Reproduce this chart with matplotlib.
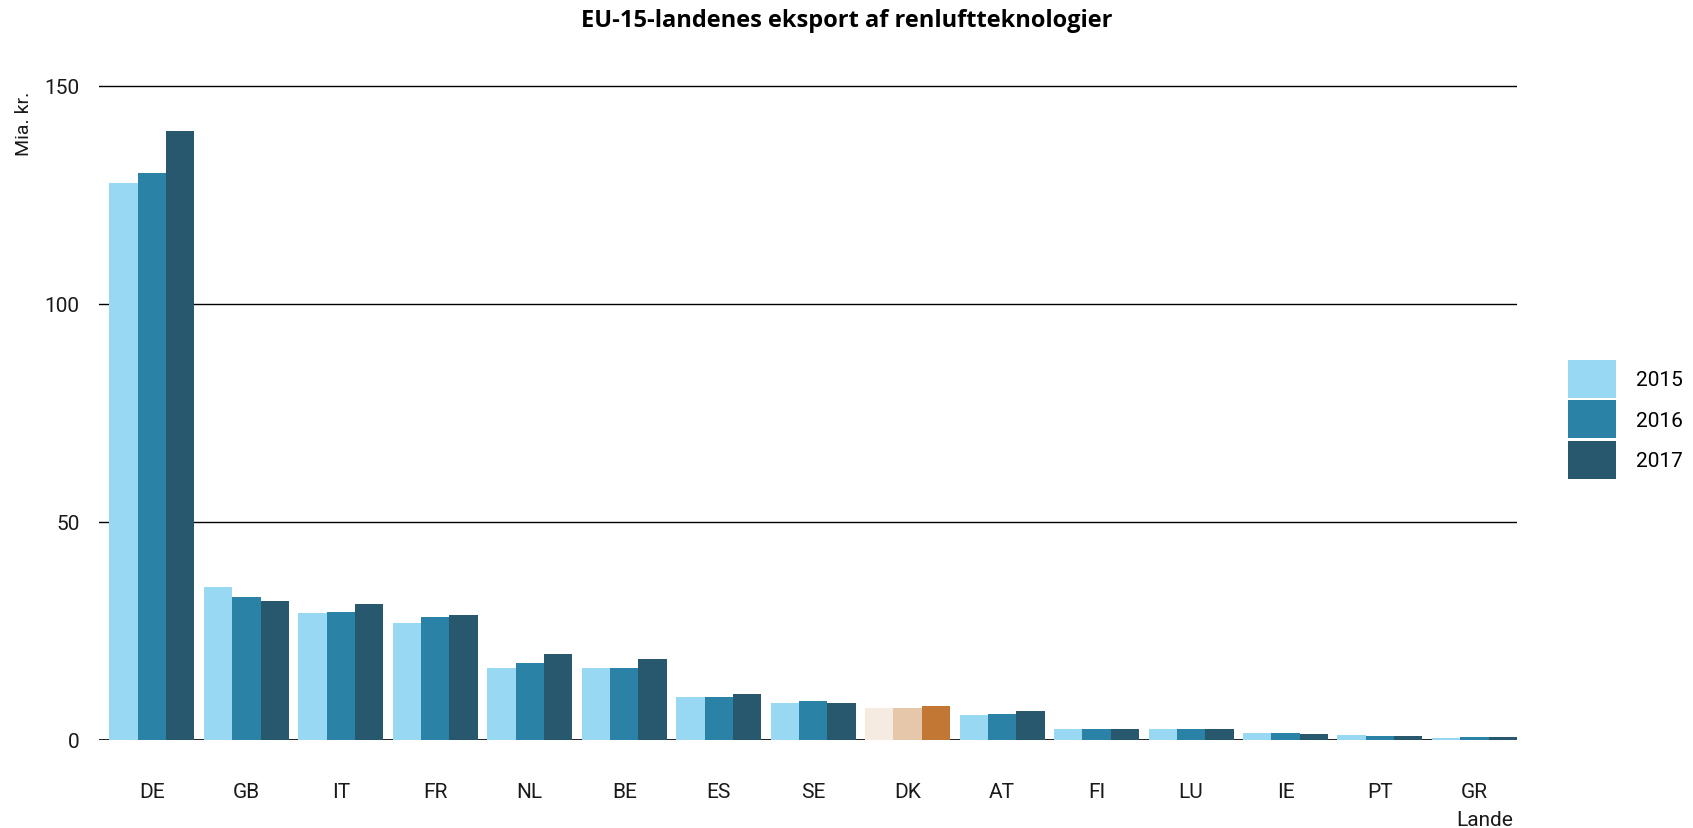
import matplotlib
matplotlib.use('Agg')
import matplotlib.pyplot as plt
from matplotlib.patches import Patch
import numpy as np

plt.rcParams['font.family'] = ['Roboto', 'DejaVu Sans']

lande = ['DE', 'GB', 'IT', 'FR', 'NL', 'BE', 'ES', 'SE', 'DK', 'AT', 'FI', 'LU', 'IE', 'PT', 'GR']
aar = ['2015', '2016', '2017']
v2015 = [127.6, 35.0, 29.1, 26.8, 16.5, 16.5, 9.8, 8.5, 7.3, 5.7, 2.5, 2.5, 1.6, 1.1, 0.4]
v2016 = [129.9, 32.8, 29.3, 28.2, 17.6, 16.5, 9.8, 8.9, 7.3, 6.0, 2.5, 2.5, 1.6, 0.9, 0.7]
v2017 = [139.5, 31.9, 31.2, 28.6, 19.7, 18.6, 10.5, 8.5, 7.8, 6.6, 2.5, 2.5, 1.3, 0.9, 0.7]

farver = ['#98D8F2', '#2A83A6', '#27586D']
dk_farver = ['#F5EBE1', '#E6C7AA', '#C27735']

fig = plt.figure(figsize=(16.93, 8.29), dpi=100)
ax = fig.add_axes([0.0585, 0.1062, 0.8375, 0.7998])

x = np.arange(len(lande))
w = 0.3
for i, vals in enumerate([v2015, v2016, v2017]):
    cols = [dk_farver[i] if l == 'DK' else farver[i] for l in lande]
    ax.bar(x + (i - 1) * w, vals, width=w, color=cols, zorder=3, linewidth=0)

# grid lines
for yv in [50, 100, 150]:
    ax.axhline(yv, color='black', linewidth=1, zorder=1)
ax.axhline(0, color='black', linewidth=1.2, zorder=2)

ax.set_xlim(-0.56, 14.45)
ax.set_ylim(0, 152)
ax.set_yticks([0, 50, 100, 150])
ax.set_xticks(x)
ax.set_xticklabels(lande)
ax.tick_params(axis='x', length=0, pad=30, labelsize=15, colors='#1a1a1a')
ax.tick_params(axis='y', length=0, pad=14, labelsize=15, colors='#1a1a1a')
for s in ax.spines.values():
    s.set_visible(False)

fig.text(0.5, 0.975, 'EU-15-landenes eksport af renluftteknologier', ha='center', va='center',
         fontsize=17, fontweight='bold', family=['Open Sans', 'DejaVu Sans'])
fig.text(0.014, 0.889, 'Mia. kr.', rotation=90, ha='center', va='top', fontsize=14, color='#1a1a1a')
fig.text(0.894, 0.0097, 'Lande', ha='right', va='center', fontsize=15, color='#1a1a1a')

handles = [Patch(facecolor=c, edgecolor='none') for c in farver]
fig.legend(handles, aar, loc='center left', bbox_to_anchor=(0.926, 0.493), frameon=False,
           fontsize=15, handlelength=2.3, handleheight=2.43, labelspacing=0.12,
           handletextpad=1.0, borderpad=0, borderaxespad=0)

plt.savefig('out.png', dpi=100)
